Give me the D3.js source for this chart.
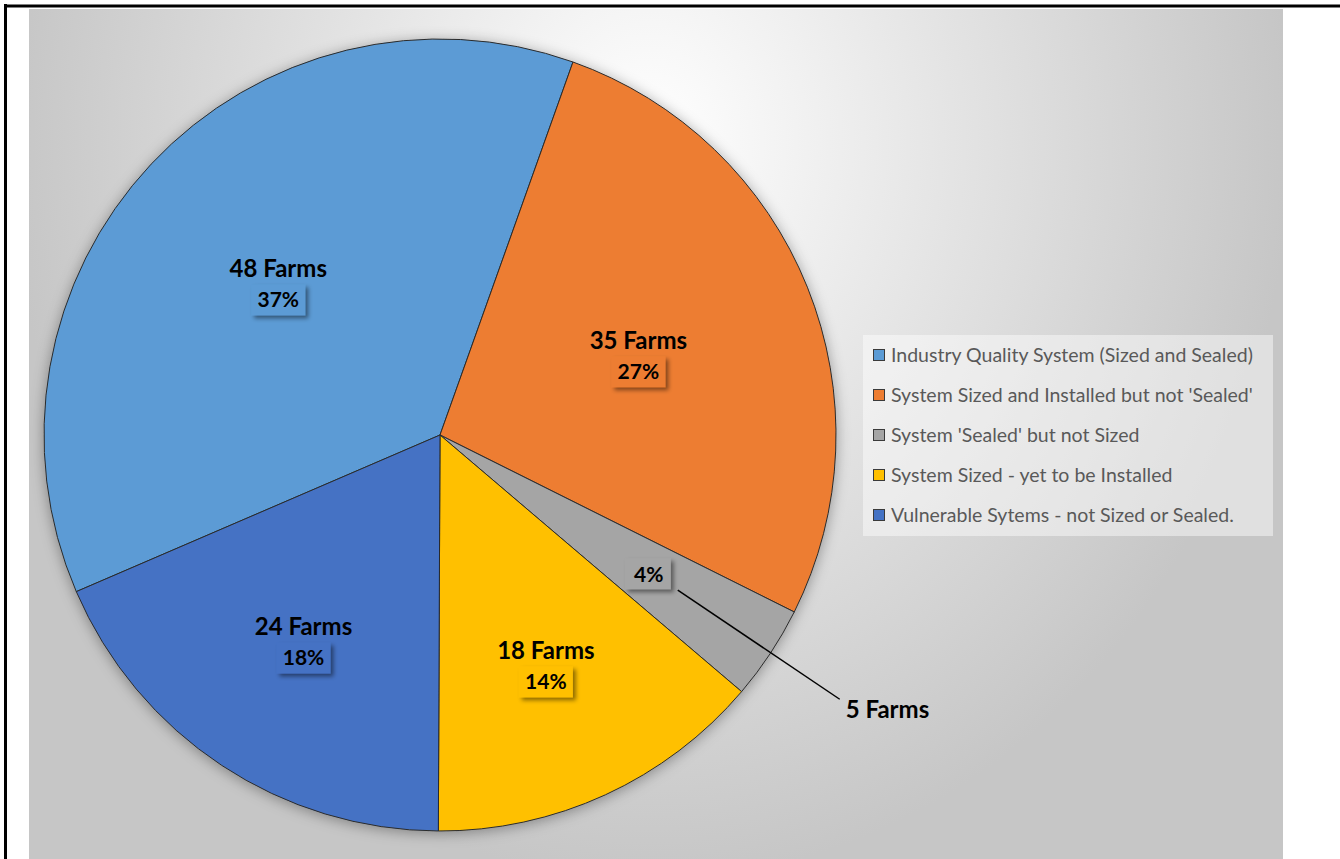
<!DOCTYPE html>
<html>
<head>
<meta charset="utf-8">
<script src="https://cdn.jsdelivr.net/npm/d3@7"></script>
<style>
  body { margin: 0; background: #fff; }
  text { font-family: Lato, "Noto Sans", sans-serif; }
</style>
</head>
<body>
<svg id="chart" width="1340" height="859"></svg>
<script>
const categories = [
  'Industry Quality System (Sized and Sealed)',
  "System Sized and Installed but not 'Sealed'",
  "System 'Sealed' but not Sized",
  'System Sized - yet to be Installed',
  'Vulnerable Sytems - not Sized or Sealed.'
];
const farms = [48, 35, 5, 18, 24];
const colors = ['#5b9bd5', '#ed7d31', '#a5a5a5', '#ffc000', '#4472c4'];
// where each label sits, as a fraction of the radius along the slice bisector
const labelDist = [0.56, 0.54, 0.635, 0.64, 0.625];
const outsideName = [false, false, true, false, false];

const W = 1340, H = 859;
const cx = 440, cy = 435, radius = 396;
const startAngle = -113.3 * Math.PI / 180;

const svg = d3.select('#chart');
const defs = svg.append('defs');

// panel background gradient
const grad = defs.append('radialGradient')
  .attr('id', 'bg')
  .attr('gradientUnits', 'userSpaceOnUse')
  .attr('cx', 0).attr('cy', 0).attr('r', 1)
  .attr('gradientTransform', 'translate(650,140) scale(640,740)');
grad.append('stop').attr('offset', 0).attr('stop-color', '#ffffff');
grad.append('stop').attr('offset', 1).attr('stop-color', '#c6c6c6');

const pieShadow = defs.append('filter').attr('id', 'pieShadow')
  .attr('x', '-10%').attr('y', '-10%').attr('width', '120%').attr('height', '120%');
pieShadow.append('feDropShadow')
  .attr('dx', 0).attr('dy', 2).attr('stdDeviation', 7)
  .attr('flood-color', '#000').attr('flood-opacity', 0.35);

const boxShadow = defs.append('filter').attr('id', 'boxShadow')
  .attr('x', '-30%').attr('y', '-30%').attr('width', '170%').attr('height', '170%');
boxShadow.append('feDropShadow')
  .attr('dx', 3).attr('dy', 3).attr('stdDeviation', 2)
  .attr('flood-color', '#000').attr('flood-opacity', 0.45);

// frame
svg.append('rect').attr('x', 29).attr('y', 9).attr('width', 1254).attr('height', H - 9)
  .attr('fill', 'url(#bg)');
svg.append('line').attr('x1', 4).attr('x2', W).attr('y1', 6).attr('y2', 6)
  .attr('stroke', '#000').attr('stroke-width', 3);
svg.append('line').attr('x1', 5.5).attr('x2', 5.5).attr('y1', 4).attr('y2', H)
  .attr('stroke', '#000').attr('stroke-width', 3);

const total = d3.sum(farms);
const data = farms.map((v, i) => ({ i, value: v, name: categories[i] }));

const pie = d3.pie()
  .value(d => d.value)
  .sort(null)
  .startAngle(startAngle)
  .endAngle(startAngle + 2 * Math.PI);

const arc = d3.arc().innerRadius(0).outerRadius(radius);
const arcs = pie(data);

const g = svg.append('g').attr('transform', `translate(${cx},${cy})`);

g.append('g').attr('filter', 'url(#pieShadow)')
  .selectAll('path')
  .data(arcs)
  .join('path')
  .attr('d', arc)
  .attr('fill', d => colors[d.data.i])
  .attr('stroke', '#2b2b2b')
  .attr('stroke-width', 1);

const boxW = 54, boxH = 31;

arcs.forEach(d => {
  const i = d.data.i;
  const r = radius * labelDist[i];
  const [lx, ly] = d3.arc().innerRadius(r).outerRadius(r).centroid(d);
  const pct = Math.round(d.value / total * 100) + '%';
  const lg = g.append('g');

  if (!outsideName[i]) {
    lg.append('text')
      .attr('x', lx).attr('y', ly - 6)
      .attr('text-anchor', 'middle')
      .style('font-size', '24px').style('font-weight', 700)
      .attr('fill', '#000')
      .text(`${d.value} Farms`);
    lg.append('rect')
      .attr('x', lx - boxW / 2).attr('y', ly + 1)
      .attr('width', boxW).attr('height', boxH)
      .attr('fill', colors[i])
      .attr('filter', 'url(#boxShadow)');
    lg.append('text')
      .attr('x', lx).attr('y', ly + 24)
      .attr('text-anchor', 'middle')
      .style('font-size', '21px').style('font-weight', 700)
      .attr('fill', '#000')
      .text(pct);
  } else {
    lg.append('rect')
      .attr('x', lx - boxW / 2 + 2).attr('y', ly - boxH / 2)
      .attr('width', boxW - 8).attr('height', boxH)
      .attr('fill', colors[i])
      .attr('filter', 'url(#boxShadow)');
    lg.append('text')
      .attr('x', lx - 1).attr('y', ly + 8)
      .attr('text-anchor', 'middle')
      .style('font-size', '21px').style('font-weight', 700)
      .attr('fill', '#000')
      .text(pct);
    const ro = radius * 1.21;
    const [ox, oy] = d3.arc().innerRadius(ro).outerRadius(ro).centroid(d);
    lg.append('line')
      .attr('x1', lx + boxW / 2 + 1).attr('y1', ly + boxH / 2 + 1)
      .attr('x2', ox).attr('y2', oy)
      .attr('stroke', '#000').attr('stroke-width', 1.5);
    lg.append('text')
      .attr('x', ox + 6).attr('y', oy + 19)
      .style('font-size', '24px').style('font-weight', 700)
      .attr('fill', '#000')
      .text(`${d.value} Farms`);
  }
});

// legend
const legend = svg.append('g').attr('transform', 'translate(863,335)');
legend.append('rect')
  .attr('width', 410).attr('height', 201)
  .attr('fill', '#fff').attr('fill-opacity', 0.45);

const items = legend.selectAll('g.item')
  .data(categories)
  .join('g')
  .attr('class', 'item')
  .attr('transform', (d, i) => `translate(10,${20 + i * 40})`);

items.append('rect')
  .attr('x', 0.5).attr('y', -5.5)
  .attr('width', 11).attr('height', 11)
  .attr('fill', (d, i) => colors[i])
  .attr('stroke', '#3a3a3a').attr('stroke-width', 1);

items.append('text')
  .attr('x', 18).attr('y', 7)
  .style('font-size', '19.5px')
  .attr('fill', '#595959')
  .text(d => d);
</script>
</body>
</html>
